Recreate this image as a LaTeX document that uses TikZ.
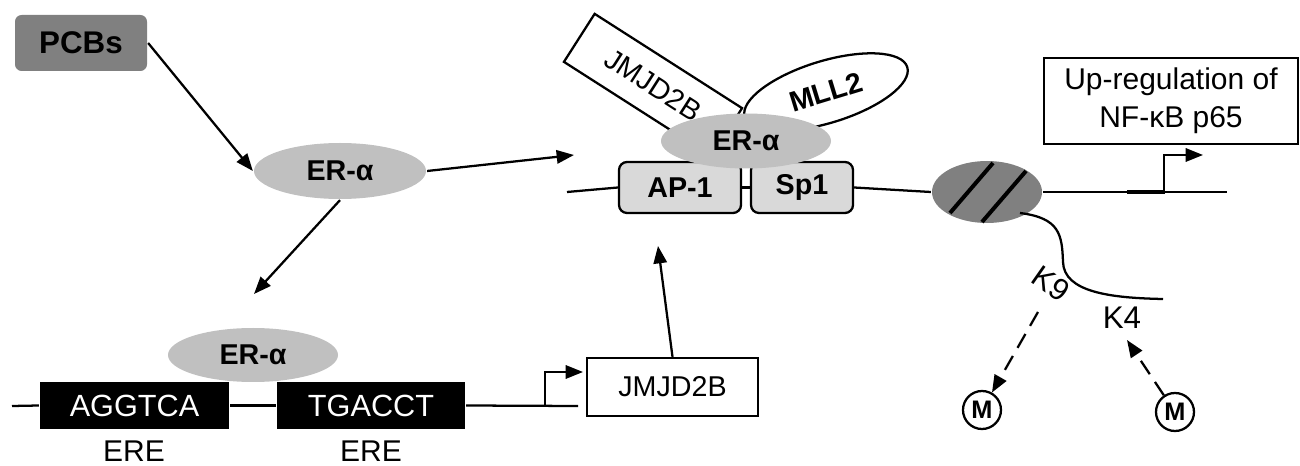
\documentclass[tikz,border=0pt]{standalone}
\usepackage{fontspec}
\setmainfont{Liberation Sans}
\usetikzlibrary{shapes.geometric,arrows.meta}
\newdimen\px \px=0.75pt
\definecolor{ergray}{HTML}{C0C0C0}
\definecolor{boxgray}{HTML}{D9D9D9}
\definecolor{dkgray}{HTML}{808080}
\begin{document}
\begin{tikzpicture}[x=0.75pt,y=-0.75pt,line width=1.7pt,
  arr/.style={-{Triangle[length=13pt,width=10pt]}},
  dasharr/.style={arr,dash pattern=on 12pt off 7pt},
  boldtxt/.style={font=\fontsize{21.5}{25}\selectfont\bfseries},
  plaintxt/.style={font=\fontsize{21.5}{26}\selectfont},
  erell/.style={ellipse,fill=ergray,inner sep=0pt,boldtxt},
  tfbox/.style={draw,rounded corners=6pt,fill=boxgray,inner sep=0pt,boldtxt},
  erebox/.style={fill=black,text=white,inner sep=0pt,font=\fontsize{23}{27}\selectfont},
  whitebox/.style={draw,fill=white,inner sep=0pt,plaintxt},
  mcirc/.style={circle,draw,inner sep=0pt,minimum size=38\px,font=\fontsize{19}{22}\selectfont\bfseries}]
\useasboundingbox (0,0) rectangle (1300,466);
% left column
\node[fill=dkgray,rounded corners=5pt,minimum width=132\px,minimum height=56\px,inner sep=0pt,font=\fontsize{23.5}{27}\selectfont\bfseries] (pcbs) at (81,43) {PCBs};
\node[erell,minimum width=172\px,minimum height=56\px] (er1) at (340,171) {ER-α};
\coordinate (er1r) at (574,155);
\coordinate (er1d) at (254,294);
\draw[arr] (pcbs.east) -- (er1.west);
\draw[arr] (er1.east) -- (er1r);
\draw[arr] (er1.south) -- (er1d);
% lower gene
\node[erebox,minimum width=189\px,minimum height=47\px] (agg) at (134.5,405.5) {AGGTCA};
\node[erebox,minimum width=188\px,minimum height=47\px] (tga) at (371,405.5) {TGACCT};
\node[erell,minimum width=170\px,minimum height=54\px] (er2) at (253,355) {ER-α};
\node[font=\fontsize{22.5}{26}\selectfont] (ere1) at (134,451) {ERE};
\node[font=\fontsize{22.5}{26}\selectfont] (ere2) at (371,451) {ERE};
\coordinate (lowL) at (12,406);
\coordinate (lowR) at (578,406);
\coordinate (tss1) at (545,406);
\coordinate (tss1e) at (583,372);
\draw (lowL) -- (agg.west);
\draw (agg.east) -- (tga.west);
\draw (tga.east) -- (lowR);
\draw[arr] (tss1) |- (tss1e);
\node[whitebox,minimum width=171\px,minimum height=58\px] (jm1) at (672.5,387) {JMJD2B};
\coordinate (jm1up) at (658,246);
\draw[arr] (jm1.north) -- (jm1up);
% upper complex
\node[tfbox,minimum width=122\px,minimum height=51\px] (ap1) at (680,187.5) {AP-1};
\node[tfbox,minimum width=102\px,minimum height=51\px] (sp1) at (802,187.5) {Sp1};
\node[whitebox,minimum width=175\px,minimum height=57\px,rotate=-32.6] (jm2) at (653,85) {JMJD2B};
\node[ellipse,draw,fill=white,inner sep=0pt,minimum width=170\px,minimum height=62\px,rotate=17,boldtxt] (mll) at (826,92) {MLL2};
\node[erell,minimum width=170\px,minimum height=55\px] (er3) at (746,141) {ER-α};
% nucleosome
\node[ellipse,fill=dkgray,inner sep=0pt,minimum width=110\px,minimum height=62\px] (nuc) at (987,192) {};
\draw[line width=3pt] (993,163) -- (950,213);
\draw[line width=3pt] (1026,171) -- (982,222);
\coordinate (upL) at (567,192);
\coordinate (upR) at (1227,192);
\draw (upL) -- (ap1.west);
\draw (ap1.east) -- (sp1.west);
\draw (sp1.east) -- (nuc.west);
\draw (nuc.east) -- (upR);
\draw[line width=3pt] (1127,192) -- (1165,192);
\coordinate (tss2) at (1164,192);
\coordinate (tss2e) at (1203,155);
\draw[arr] (tss2) |- (tss2e);
\node[draw,inner sep=0pt,minimum width=254\px,minimum height=86\px,align=center,font=\fontsize{22.5}{28.5}\selectfont] (upreg) at (1171,101) {Up-regulation of\\NF-κB p65};
% histone tail
\coordinate (tail0) at (1020,213);
\draw (tail0) .. controls (1060,218) and (1062,235) .. (1063,262) .. controls (1064,292) and (1110,298) .. (1163,299);
\node[rotate=-35,font=\fontsize{23}{27}\selectfont] (k9) at (1051,284) {K9};
\node[font=\fontsize{23.5}{27}\selectfont] (k4) at (1122,318) {K4};
\node[mcirc] (m1) at (982,410) {M};
\node[mcirc] (m2) at (1175,412) {M};
\coordinate (k9s) at (1038,312);
\coordinate (k4e) at (1127,340);
\draw[dasharr] (k9s) -- (m1);
\draw[dasharr] (m2) -- (k4e);
\end{tikzpicture}
\end{document}
